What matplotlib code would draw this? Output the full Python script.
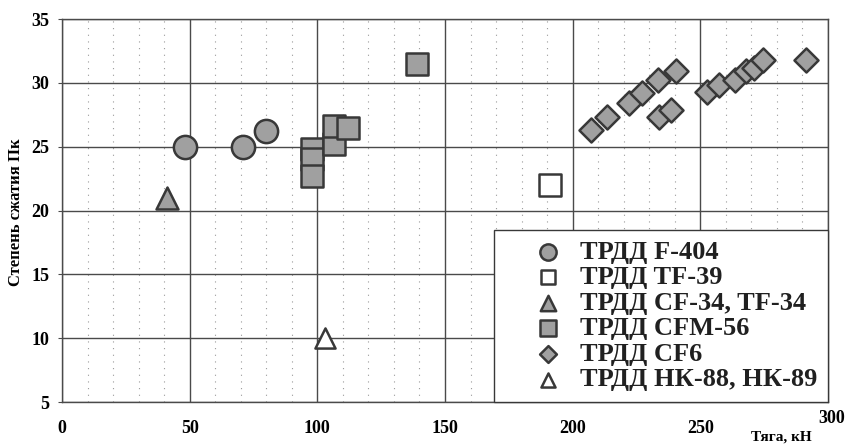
import numpy as np
import matplotlib
matplotlib.use("Agg")
import matplotlib.pyplot as plt
from matplotlib.ticker import MultipleLocator, FuncFormatter

plt.rcParams["font.family"] = ["Liberation Serif", "DejaVu Serif"]
plt.rcParams["font.weight"] = "bold"

# ---- data (тяга, кН ; степень сжатия) ----
f404_x = [48, 71, 80]
f404_y = [25.0, 25.0, 26.2]

tf39_x = [191]
tf39_y = [22.0]

cf34_x = [41]
cf34_y = [21.0]

cfm56_x = [98, 98, 98, 106.5, 106.5, 112, 139]
cfm56_y = [24.8, 24.0, 22.7, 25.2, 26.6, 26.5, 31.5]

cf6_x = [207, 213.5, 222, 227, 233.5, 240.5, 234, 238.5,
         252.5, 257.5, 263.5, 268, 271, 274.5, 291.5]
cf6_y = [26.3, 27.3, 28.4, 29.2, 30.2, 30.9, 27.3, 27.9,
         29.3, 29.8, 30.2, 30.9, 31.2, 31.8, 31.8]

nk88_x = [103]
nk88_y = [10.0]

labels = ["ТРДД F-404", "ТРДД TF-39", "ТРДД CF-34, TF-34",
          "ТРДД CFM-56", "ТРДД CF6", "ТРДД НК-88, НК-89"]

GRAY = "#a0a0a0"
EDGE = "#383838"

fig = plt.figure(figsize=(8.46, 4.48), dpi=100)
ax = fig.add_axes([62 / 846, 1 - 402 / 448, (828 - 62) / 846, (402 - 19) / 448])

series = [
    (f404_x, f404_y, "o", GRAY, 280),
    (tf39_x, tf39_y, "s", "white", 230),
    (cf34_x, cf34_y, "^", GRAY, 250),
    (cfm56_x, cfm56_y, "s", GRAY, 250),
    (cf6_x, cf6_y, "D", GRAY, 150),
    (nk88_x, nk88_y, "^", "white", 210),
]
handles = []
for (xs, ys, m, fc, s), lab in zip(series, labels):
    h = ax.scatter(xs, ys, marker=m, s=s, facecolor=fc, edgecolor=EDGE,
                   linewidths=1.8, zorder=3, label=lab)
    handles.append(h)

ax.set_xlim(0, 300)
ax.set_ylim(5, 35)
ax.xaxis.set_major_locator(MultipleLocator(50))
ax.xaxis.set_minor_locator(MultipleLocator(10))
ax.yaxis.set_major_locator(MultipleLocator(5))
# "300" рисуется отдельно (на оригинале он сдвинут вверх-вправо)
ax.xaxis.set_major_formatter(FuncFormatter(lambda v, p: "" if v >= 300 else f"{v:.0f}"))

ax.grid(True, which="major", color="#4a4a4a", lw=1.0)
ax.grid(True, which="minor", axis="x", color="#999999", lw=0.8, ls=(0, (1, 5)))
ax.set_axisbelow(True)
for sp in ax.spines.values():
    sp.set_color("#4a4a4a")
    sp.set_linewidth(1.0)

ax.tick_params(axis="x", which="both", length=0, pad=13, labelsize=13)
ax.tick_params(axis="y", which="major", length=3, pad=6, labelsize=13, color="#4a4a4a")
ax.tick_params(axis="y", which="minor", length=0)

ax.annotate("300", xy=(300, 5), xycoords="data", xytext=(3, -6),
            textcoords="offset points", ha="center", va="top",
            fontsize=13, fontweight="bold")

fig.text(16 / 846, 1 - 212 / 448, "Степень сжатия Пк", rotation=90,
         ha="center", va="center", fontsize=12, fontweight="bold")
fig.text(781 / 846, 1 - 437 / 448, "Тяга, кН", ha="center", va="center",
         fontsize=11, fontweight="bold")

leg = ax.legend(handles=handles, loc="lower right", bbox_to_anchor=(1.0, 0.0),
                borderaxespad=0, markerscale=0.7, labelspacing=0.08,
                handlelength=3.3, handletextpad=-0.45, borderpad=0.4,
                fancybox=False, framealpha=1, edgecolor="#383838",
                prop={"family": "Liberation Serif", "weight": "bold", "size": 19})
leg.get_frame().set_linewidth(1.0)
for t in leg.get_texts():
    t.set_color("#202020")

fig.savefig("out.png", dpi=100)
